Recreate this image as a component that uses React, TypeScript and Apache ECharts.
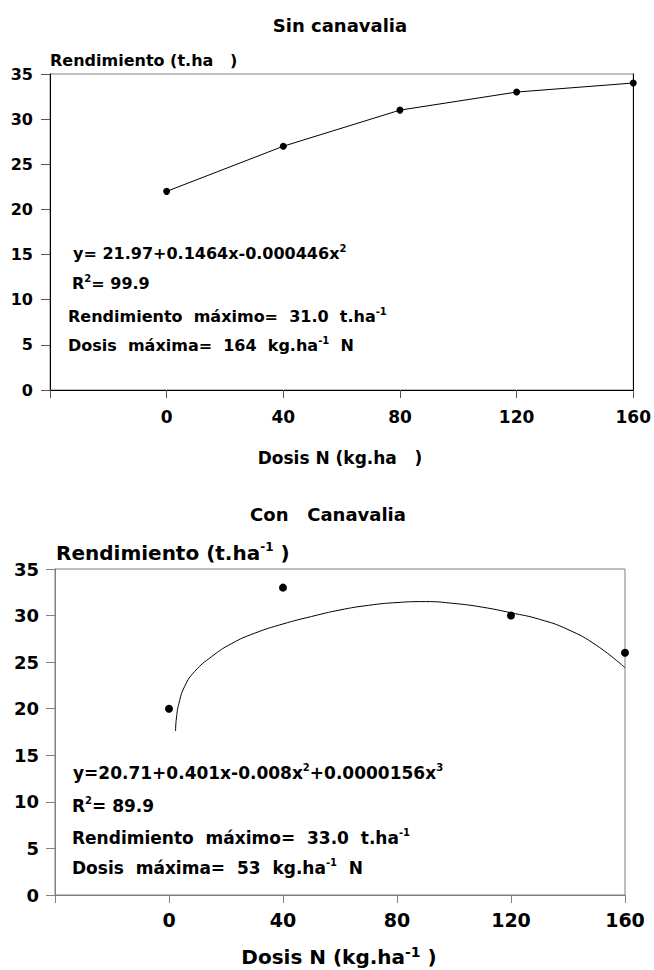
import React, { useEffect, useRef } from "react";
import * as echarts from "echarts";

// ---- data ----
const dosisSin = [0, 40, 80, 120, 160];
const rendSin = [22, 27, 31, 33, 34];

const dosisCon = [0, 40, 120, 160];
const rendCon = [20, 33, 30, 26];

// fitted curve (Con Canavalia)
const curveX = [2.3, 2.6, 3.5, 5.5, 9, 15, 22, 30, 40, 50, 60, 70, 80, 90, 100, 110, 120, 130, 140, 150, 160];
const curveY = [17.6, 19.0, 20.6, 22.4, 24.0, 25.6, 27.0, 28.1, 29.1, 29.9, 30.6, 31.1, 31.4, 31.5, 31.3, 30.9, 30.3, 29.6, 28.5, 26.8, 24.4];

const xTickLabels = ["0", "40", "80", "120", "160"];

const FONT = '"DejaVu Sans", "Liberation Sans", Arial, sans-serif';

export default function App() {
  const ref = useRef<HTMLDivElement>(null);
  useEffect(() => {
    if (!ref.current) return;
    const chart = echarts.init(ref.current, undefined, { renderer: "svg" });

    const xLabelFmt = (v: number) => (xTickLabels.includes(String(v)) ? String(v) : "");

    const topAxisColor = "#000";
    const botAxisColor = "#7f7f7f";

    const richFor = (fs: number) => ({
      a: { fontFamily: FONT, fontWeight: "bold", fontSize: fs, lineHeight: fs + 4, color: "#000" },
      s: { fontFamily: FONT, fontWeight: "bold", fontSize: Math.round(fs * 0.6), lineHeight: Math.round(fs * 0.6), verticalAlign: "top", color: "#000" },
    });

    const textEl = (x: number, y: number, text: string, fs: number, align = "left", rich?: any) => ({
      type: "text",
      x,
      y,
      style: {
        text,
        fontFamily: FONT,
        fontWeight: "bold",
        fontSize: fs,
        fill: "#000",
        align,
        verticalAlign: "middle",
        rich,
      },
    });

    const richTop = richFor(16);
    const richBot = richFor(17);

    chart.setOption({
      animation: false,
      backgroundColor: "#fff",
      grid: [
        { left: 50, top: 74, width: 589, height: 316, show: true, borderColor: "#808080", borderWidth: 1, backgroundColor: "transparent" },
        { left: 55, top: 569, width: 570, height: 326, show: true, borderColor: botAxisColor, borderWidth: 1, backgroundColor: "transparent" },
      ],
      xAxis: [
        {
          gridIndex: 0, type: "value", min: -40, max: 160, interval: 40,
          axisLine: { show: true, onZero: false, lineStyle: { color: topAxisColor, width: 1 } },
          axisTick: { show: true, length: 8, lineStyle: { color: "#555" } },
          splitLine: { show: false },
          axisLabel: { formatter: xLabelFmt, margin: 18, fontFamily: FONT, fontWeight: "bold", fontSize: 17, color: "#000" },
        },
        {
          gridIndex: 1, type: "value", min: -40, max: 160, interval: 40,
          axisLine: { show: true, onZero: false, lineStyle: { color: botAxisColor, width: 1 } },
          axisTick: { show: true, length: 8, lineStyle: { color: botAxisColor } },
          splitLine: { show: false },
          axisLabel: { formatter: xLabelFmt, margin: 15, fontFamily: FONT, fontWeight: "bold", fontSize: 19, color: "#000" },
        },
      ],
      yAxis: [
        {
          gridIndex: 0, type: "value", min: 0, max: 35, interval: 5,
          axisLine: { show: true, onZero: false, lineStyle: { color: topAxisColor, width: 1 } },
          axisTick: { show: true, length: 9, lineStyle: { color: "#555" } },
          splitLine: { show: false },
          axisLabel: { margin: 17, fontFamily: FONT, fontWeight: "bold", fontSize: 16, color: "#000" },
        },
        {
          gridIndex: 1, type: "value", min: 0, max: 35, interval: 5,
          axisLine: { show: true, onZero: false, lineStyle: { color: botAxisColor, width: 1 } },
          axisTick: { show: true, length: 9, lineStyle: { color: botAxisColor } },
          splitLine: { show: false },
          axisLabel: { margin: 16, fontFamily: FONT, fontWeight: "bold", fontSize: 18, color: "#000" },
        },
        {
          gridIndex: 0, type: "value", min: 0, max: 35, interval: 5, position: "right",
          axisLine: { show: true, onZero: false, lineStyle: { color: "#000", width: 1 } },
          axisTick: { show: false }, axisLabel: { show: false }, splitLine: { show: false },
        },
      ],
      series: [
        {
          type: "line", xAxisIndex: 0, yAxisIndex: 0,
          data: dosisSin.map((d, i) => [d, rendSin[i]]),
          symbol: "circle", symbolSize: 7,
          itemStyle: { color: "#000", opacity: 1 },
          lineStyle: { color: "#000", width: 1 },
        },
        {
          type: "line", xAxisIndex: 1, yAxisIndex: 1,
          data: curveX.map((d, i) => [d, curveY[i]]),
          showSymbol: false, smooth: 0.5,
          lineStyle: { color: "#000", width: 1 },
        },
        {
          type: "scatter", xAxisIndex: 1, yAxisIndex: 1,
          data: dosisCon.map((d, i) => [d, rendCon[i]]),
          symbol: "circle", symbolSize: 8,
          itemStyle: { color: "#000", opacity: 1 },
        },
      ],
      graphic: [
        textEl(340, 25, "Sin canavalia", 18, "center"),
        textEl(50, 60, "Rendimiento (t.ha   )", 16),
        textEl(340, 458, "Dosis N (kg.ha   )", 17, "center"),
        textEl(73, 253, "{a|y= 21.97+0.1464x-0.000446x}{s|2}", 16, "left", richTop),
        textEl(72, 283, "{a|R}{s|2}{a|= 99.9}", 16, "left", richTop),
        textEl(68, 316, "{a|Rendimiento  máximo=  31.0  t.ha}{s|-1}", 16, "left", richTop),
        textEl(68, 345, "{a|Dosis  máxima=  164  kg.ha}{s|-1}{a|  N}", 16, "left", richTop),

        textEl(328, 514, "Con   Canavalia", 18, "center"),
        textEl(56, 553, "{b|Rendimiento (t.ha}{t|-1}{b| )}", 20, "left", {
          b: { fontFamily: FONT, fontWeight: "bold", fontSize: 20, lineHeight: 24, color: "#000" },
          t: { fontFamily: FONT, fontWeight: "bold", fontSize: 12, lineHeight: 12, verticalAlign: "top", color: "#000" },
        }),
        textEl(339, 957, "{b|Dosis N (kg.ha}{t|-1}{b| )}", 20, "center", {
          b: { fontFamily: FONT, fontWeight: "bold", fontSize: 20, lineHeight: 24, color: "#000" },
          t: { fontFamily: FONT, fontWeight: "bold", fontSize: 14, lineHeight: 18, verticalAlign: "top", color: "#000" },
        }),
        textEl(73, 773, "{a|y=20.71+0.401x-0.008x}{s|2}{a|+0.0000156x}{s|3}", 17, "left", richBot),
        textEl(72, 806, "{a|R}{s|2}{a|= 89.9}", 17, "left", richBot),
        textEl(72, 838, "{a|Rendimiento  máximo=  33.0  t.ha}{s|-1}", 17, "left", richBot),
        textEl(72, 868, "{a|Dosis  máxima=  53  kg.ha}{s|-1}{a|  N}", 17, "left", richBot),
      ],
    });
    return () => chart.dispose();
  }, []);
  return <div ref={ref} style={{ position: "absolute", left: 0, top: 0, width: 654, height: 970 }} />;
}
